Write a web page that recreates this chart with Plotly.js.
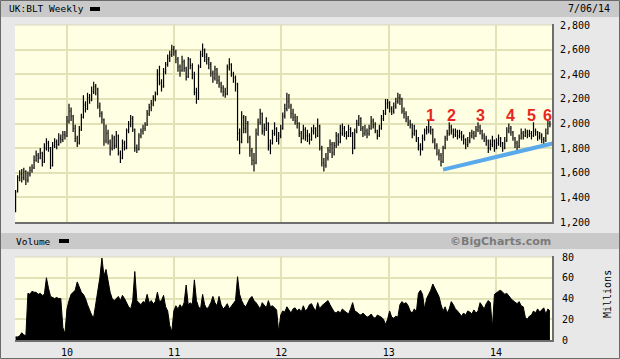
<!DOCTYPE html>
<html>
<head>
<meta charset="utf-8">
<script src="https://cdn.plot.ly/plotly-3.0.1.min.js"></script>
<style>html,body{margin:0;padding:0;background:#E8E8E8;}#chart{width:620px;height:359px;}</style>
</head>
<body>
<div id="chart"></div>
<script>
// ---------- DATA (weekly bars from the week of 2009-07-10) ----------
const firstWeek = '2009-07-10';

const opens = [
1300,1450,1560,1590,1560,1610,1540,1590,1620,1640,
1700,1740,1720,1760,1690,1800,1840,1800,1660,1820,
1850,1830,1880,1870,1910,1900,2020,2100,2060,1960,
1880,1840,1950,2050,2150,2120,2210,2190,2260,2300,
2280,2140,2080,2030,1860,1920,1850,1800,1880,1820,
1900,1760,1720,1840,1800,1940,1990,2040,1950,1800,
1790,1900,1940,1960,1990,2080,2130,2160,2200,2240,
2400,2330,2300,2420,2480,2530,2560,2600,2580,2520,
2460,2430,2500,2450,2380,2520,2470,2400,2250,2200,
2460,2560,2600,2540,2520,2480,2410,2370,2440,2350,
2320,2290,2260,2240,2460,2480,2400,2370,2320,1920,
1850,2050,1960,2000,1880,1780,1700,1680,1920,2010,
2080,1940,1960,2000,1820,1840,1920,1960,1880,1900,
1960,2060,2120,2180,2140,2080,2050,2020,2000,1920,
1880,1950,1900,1900,1870,1940,1960,1900,1980,1800,
1680,1660,1720,1780,1830,1760,1820,1900,1850,1920,
1960,1920,1900,1950,1920,1800,1940,2000,2040,1960,
1920,1940,1920,1960,2020,1990,1940,1900,1960,2040,
2080,2160,2170,2120,2100,2140,2180,2210,2200,2100,
2080,2040,2010,1990,1920,1940,1880,1820,1790,1880,
1940,1950,1940,1950,1860,1820,1760,1740,1690,1800,
1880,1920,1970,1940,1910,1930,1900,1920,1890,1870,
1830,1860,1900,1920,1900,1950,1970,1940,1900,1880,
1860,1800,1830,1860,1800,1840,1880,1840,1800,1860,
1940,1960,1930,1880,1840,1810,1880,1920,1900,1930,
1910,1920,1900,1940,1930,1890,1900,1870,1860,1920,
2000];

const highs = [
1460,1580,1620,1630,1640,1620,1610,1650,1670,1740,
1780,1760,1800,1770,1840,1880,1860,1810,1850,1880,
1870,1920,1910,1940,1940,2060,2160,2130,2070,1990,
1900,1980,2080,2230,2180,2250,2240,2300,2340,2320,
2290,2170,2100,2040,1990,1950,1870,1910,1900,1940,
1910,1780,1870,1860,1960,2020,2070,2060,1960,1830,
1920,1960,1990,2010,2110,2160,2190,2230,2260,2440,
2470,2360,2450,2500,2560,2590,2640,2630,2600,2540,
2480,2550,2520,2460,2540,2530,2490,2420,2290,2480,
2590,2650,2610,2570,2540,2500,2430,2470,2450,2390,
2340,2310,2290,2480,2530,2490,2420,2390,2330,1960,
2100,2070,2060,2020,1900,1800,1760,1960,2040,2120,
2090,2000,2050,2010,1870,1950,2010,1970,1930,1990,
2090,2160,2250,2240,2160,2120,2080,2060,2010,1940,
1990,1970,1950,1920,1970,1990,1970,2040,1990,1820,
1720,1760,1810,1870,1850,1850,1930,1920,1990,2000,
1980,1940,1990,1970,1930,1960,2030,2070,2050,1980,
1990,1960,1990,2060,2040,2010,1950,1990,2070,2110,
2200,2200,2180,2140,2170,2210,2250,2240,2210,2130,
2100,2060,2030,2000,1990,1950,1890,1840,1910,1960,
1980,2030,1980,1960,1880,1840,1790,1760,1820,1900,
1950,2010,1990,1960,1960,1950,1950,1940,1910,1880,
1890,1930,1950,1940,1980,2010,1990,1950,1920,1900,
1870,1870,1900,1870,1880,1910,1890,1850,1890,1970,
2000,1980,1940,1890,1860,1910,1960,1940,1960,1950,
1950,1940,2010,1960,1940,1930,1920,1890,1960,2030,
2020];

const lows = [
1280,1440,1530,1520,1540,1500,1520,1570,1600,1630,
1690,1680,1710,1650,1680,1780,1770,1630,1650,1800,
1790,1820,1840,1850,1870,1890,2000,2020,1930,1850,
1810,1830,1940,2040,2090,2110,2160,2180,2240,2230,
2120,2050,2000,1820,1840,1830,1740,1780,1790,1800,
1740,1680,1710,1780,1790,1920,1970,1930,1770,1760,
1780,1880,1910,1940,1980,2060,2100,2140,2180,2230,
2310,2260,2290,2400,2460,2500,2540,2550,2490,2420,
2380,2420,2420,2350,2370,2440,2360,2230,2160,2190,
2450,2540,2500,2480,2440,2380,2330,2350,2320,2290,
2250,2220,2210,2230,2430,2380,2330,2260,1860,1750,
1840,1920,1920,1840,1730,1660,1610,1670,1900,1990,
1910,1900,1940,1780,1750,1830,1900,1850,1830,1880,
1950,2040,2100,2120,2040,2020,1990,1960,1890,1840,
1870,1860,1850,1830,1860,1910,1880,1890,1780,1650,
1610,1640,1700,1760,1720,1740,1800,1820,1840,1900,
1890,1870,1890,1890,1750,1790,1920,1980,1940,1890,
1900,1880,1900,1950,1960,1920,1870,1890,1950,2020,
2070,2120,2090,2070,2080,2120,2160,2150,2080,2040,
2010,1980,1960,1880,1900,1850,1780,1740,1780,1860,
1910,1920,1910,1840,1790,1740,1700,1650,1680,1790,
1860,1900,1910,1880,1890,1870,1880,1860,1830,1790,
1810,1840,1880,1870,1890,1930,1910,1870,1850,1820,
1760,1780,1810,1770,1790,1820,1810,1770,1790,1850,
1920,1900,1860,1800,1780,1800,1870,1870,1890,1880,
1890,1870,1890,1900,1860,1870,1840,1830,1850,1910,
1970];

const closes = [
1440,1560,1590,1560,1610,1540,1590,1620,1640,1700,
1740,1720,1760,1690,1800,1840,1800,1660,1820,1850,
1830,1880,1870,1910,1900,2020,2100,2060,1960,1880,
1840,1950,2050,2150,2120,2210,2190,2260,2300,2280,
2140,2080,2030,1860,1920,1850,1800,1880,1820,1900,
1760,1720,1840,1800,1940,1990,2040,1950,1800,1790,
1900,1940,1960,1990,2080,2130,2160,2200,2240,2400,
2330,2300,2420,2480,2530,2560,2600,2580,2520,2460,
2430,2500,2450,2380,2520,2470,2400,2250,2200,2460,
2560,2600,2540,2520,2480,2410,2370,2440,2350,2320,
2290,2260,2240,2460,2480,2400,2370,2320,1920,1850,
2050,1960,2000,1880,1780,1700,1680,1920,2010,2080,
1940,1960,2000,1820,1840,1920,1960,1880,1900,1960,
2060,2120,2180,2140,2080,2050,2020,2000,1920,1880,
1950,1900,1900,1870,1940,1960,1900,1980,1800,1680,
1660,1720,1780,1830,1760,1820,1900,1850,1920,1960,
1920,1900,1950,1920,1800,1940,2000,2040,1960,1920,
1940,1920,1960,2020,1990,1940,1900,1960,2040,2080,
2160,2170,2120,2100,2140,2180,2210,2200,2100,2080,
2040,2010,1990,1920,1940,1880,1820,1790,1880,1940,
1950,1940,1950,1860,1820,1760,1740,1690,1800,1880,
1920,1970,1940,1910,1930,1900,1920,1890,1870,1830,
1860,1900,1920,1900,1950,1970,1940,1900,1880,1860,
1800,1830,1860,1800,1840,1880,1840,1800,1860,1940,
1960,1930,1880,1840,1810,1880,1920,1900,1930,1910,
1920,1900,1940,1930,1890,1900,1870,1860,1920,2000,
1990];

// weekly volume, millions
const volumes = [
3,3,4,7,5,4,45,44,47,46,
46,44,45,43,44,60,50,42,41,40,
41,40,40,12,6,30,38,44,46,48,
56,50,46,44,40,34,28,24,22,34,
45,60,79,62,68,55,46,40,38,40,
42,38,43,40,36,32,30,38,66,38,
36,34,37,36,44,36,38,35,37,46,
37,38,43,32,28,14,8,28,33,30,
34,31,36,53,34,36,34,58,38,32,
30,44,34,30,32,36,42,36,33,42,
34,30,32,35,30,33,36,38,61,44,
38,34,32,36,40,42,38,36,33,30,
36,34,31,38,32,33,31,29,8,24,
28,27,32,29,26,30,31,28,30,27,
33,28,30,34,35,31,28,36,30,33,
35,37,38,34,30,27,26,28,26,30,
28,26,25,30,36,28,27,25,24,26,
24,22,23,25,22,21,24,23,22,20,
15,20,28,22,21,23,22,34,37,35,
36,33,28,26,30,27,45,48,44,30,
40,44,48,54,50,46,42,34,28,32,
26,30,37,34,30,28,25,23,26,24,
28,27,25,29,26,28,36,33,30,35,
38,36,12,44,46,47,48,46,44,45,
42,40,38,36,35,37,33,32,22,20,
23,24,28,26,30,27,29,31,25,30,
28];

const yearTickDates = ['2010-01-01','2011-01-01','2012-01-01','2013-01-01','2014-01-01'];
const yearTickText  = ['10','11','12','13','14'];
const priceTicks = [1200,1400,1600,1800,2000,2200,2400,2600,2800];
const priceTickText = ['1,200','1,400','1,600','1,800','2,000','2,200','2,400','2,600','2,800'];
const volTicks = [0,20,40,60,80];
const volTickText = ['0','20','40','60','80'];

// hand-drawn support line (date, price)
const trendDates = ['2013-07-05','2014-08-08'];
const trendPrices = [1625,1853];

// wave labels: text and the week index they sit over
const waveText = ['1','2','3','4','5','6'];
const waveWeek = [202,212,226,241,251,259];
const waveLevel = 2062;

// ---------- BUILD ----------
const t0 = Date.UTC(2009,6,10);
const dates = closes.map((_, i) => new Date(t0 + i*7*86400000).toISOString().slice(0,10));

const W = 620, H = 359;
const px = x => x / W, py = y => 1 - y / H;
const xRange = ['2009-07-08','2014-07-11'];
const grid = '#E3E2B6';
const mono = 'DejaVu Sans Mono';

const traces = [
  {
    type: 'ohlc', x: dates, open: opens, high: highs, low: lows, close: closes,
    xaxis: 'x', yaxis: 'y', tickwidth: 0.35,
    increasing: {line: {color: '#000', width: 1.2}},
    decreasing: {line: {color: '#000', width: 1.2}},
    hoverinfo: 'skip'
  },
  {
    type: 'scatter', mode: 'lines', x: trendDates, y: trendPrices,
    xaxis: 'x', yaxis: 'y', line: {color: '#5AA9EA', width: 4}, hoverinfo: 'skip'
  },
  {
    type: 'scatter', mode: 'lines', x: dates, y: volumes, xaxis: 'x2', yaxis: 'y2',
    fill: 'tozeroy', fillcolor: '#000', line: {color: '#000', width: 1}, hoverinfo: 'skip'
  }
];

const annotations = [
  {text: 'UK:BLT Weekly', xref: 'paper', yref: 'paper', x: px(7), y: py(9), xanchor: 'left', yanchor: 'middle', showarrow: false, font: {family: mono, size: 9.5, color: '#000'}},
  {text: '7/06/14', xref: 'paper', yref: 'paper', x: px(612), y: py(9), xanchor: 'right', yanchor: 'middle', showarrow: false, font: {family: mono, size: 10, color: '#000'}},
  {text: 'Volume', xref: 'paper', yref: 'paper', x: px(14), y: py(241), xanchor: 'left', yanchor: 'middle', showarrow: false, font: {family: mono, size: 9.5, color: '#000'}},
  {text: '©BigCharts.com', xref: 'paper', yref: 'paper', x: px(553), y: py(241), xanchor: 'right', yanchor: 'middle', showarrow: false, font: {family: 'DejaVu Sans', size: 11, color: '#7A7A7A', weight: 'bold'}},
  {text: 'Millions', xref: 'paper', yref: 'paper', x: px(607), y: py(294), xanchor: 'center', yanchor: 'middle', textangle: -90, showarrow: false, font: {family: mono, size: 10, color: '#000'}}
];
waveText.forEach((t, k) => annotations.push({
  text: '<b>' + t + '</b>', xref: 'x', yref: 'y', x: dates[waveWeek[k]], y: waveLevel,
  showarrow: false, xanchor: 'center', yanchor: 'middle',
  font: {family: 'Liberation Sans', size: 16, color: '#E8261E'}
}));

const shapes = [
  {type: 'rect', xref: 'paper', yref: 'paper', x0: 0, x1: 1, y0: py(17), y1: 1, fillcolor: '#C9C9C9', line: {width: 0}, layer: 'below'},
  {type: 'rect', xref: 'paper', yref: 'paper', x0: 0, x1: 1, y0: py(249), y1: py(233), fillcolor: '#C9C9C9', line: {width: 0}, layer: 'below'},
  {type: 'rect', xref: 'paper', yref: 'paper', x0: px(90), x1: px(100), y0: py(11), y1: py(7), fillcolor: '#000', line: {width: 0}},
  {type: 'rect', xref: 'paper', yref: 'paper', x0: px(59), x1: px(69), y0: py(243), y1: py(239), fillcolor: '#000', line: {width: 0}},
  // plot frames
  {type: 'line', xref: 'paper', yref: 'paper', x0: px(15), x1: px(553), y0: py(25), y1: py(25), line: {color: '#D9D8BC', width: 1}},
  {type: 'line', xref: 'paper', yref: 'paper', x0: px(15), x1: px(553), y0: py(223), y1: py(223), line: {color: '#6E6E6E', width: 2}},
  {type: 'line', xref: 'paper', yref: 'paper', x0: px(553), x1: px(553), y0: py(24), y1: py(224), line: {color: '#6E6E6E', width: 2}},
  {type: 'line', xref: 'paper', yref: 'paper', x0: px(15), x1: px(553), y0: py(257), y1: py(257), line: {color: '#D9D8BC', width: 1}},
  {type: 'line', xref: 'paper', yref: 'paper', x0: px(15), x1: px(553), y0: py(341), y1: py(341), line: {color: '#6E6E6E', width: 2}},
  {type: 'line', xref: 'paper', yref: 'paper', x0: px(553), x1: px(553), y0: py(256), y1: py(342), line: {color: '#6E6E6E', width: 2}},
  // outer frame
  {type: 'rect', xref: 'paper', yref: 'paper', x0: px(0.5), x1: px(619.5), y0: py(358.5), y1: py(0.5), line: {color: '#6A6A6A', width: 1}, fillcolor: 'rgba(0,0,0,0)'}
];

const tickFont = {family: mono, size: 10, color: '#000'};
const layout = {
  width: W, height: H, margin: {l: 0, r: 0, t: 0, b: 0},
  paper_bgcolor: '#E8E8E8', plot_bgcolor: '#FFFFE3',
  showlegend: false, hovermode: false,
  xaxis: {
    domain: [px(15), px(552)], range: xRange, type: 'date', anchor: 'y',
    tickvals: yearTickDates, ticktext: yearTickText, showticklabels: false,
    showgrid: true, gridcolor: grid, gridwidth: 2, ticks: '', zeroline: false,
    rangeslider: {visible: false}, fixedrange: true, showline: false
  },
  yaxis: {
    domain: [py(222), py(25)], range: [1200, 2800], side: 'right', anchor: 'x',
    tickvals: priceTicks, ticktext: priceTickText, tickfont: tickFont,
    showgrid: true, gridcolor: grid, gridwidth: 2, zeroline: false,
    ticks: 'outside', ticklen: 5, tickcolor: 'rgba(0,0,0,0)', fixedrange: true
  },
  xaxis2: {
    domain: [px(15), px(552)], range: xRange, type: 'date', anchor: 'y2',
    tickvals: yearTickDates, ticktext: yearTickText, tickfont: tickFont,
    showgrid: true, gridcolor: grid, gridwidth: 2, zeroline: false,
    ticks: 'outside', ticklen: 3, tickcolor: 'rgba(0,0,0,0)', fixedrange: true
  },
  yaxis2: {
    domain: [py(340), py(257)], range: [0, 80], side: 'right', anchor: 'x2',
    tickvals: volTicks, ticktext: volTickText, tickfont: tickFont,
    showgrid: true, gridcolor: grid, gridwidth: 2, zeroline: false,
    ticks: 'outside', ticklen: 7, tickcolor: 'rgba(0,0,0,0)', fixedrange: true
  },
  annotations: annotations,
  shapes: shapes
};

Plotly.newPlot('chart', traces, layout, {staticPlot: true, displayModeBar: false});
</script>
</body>
</html>
